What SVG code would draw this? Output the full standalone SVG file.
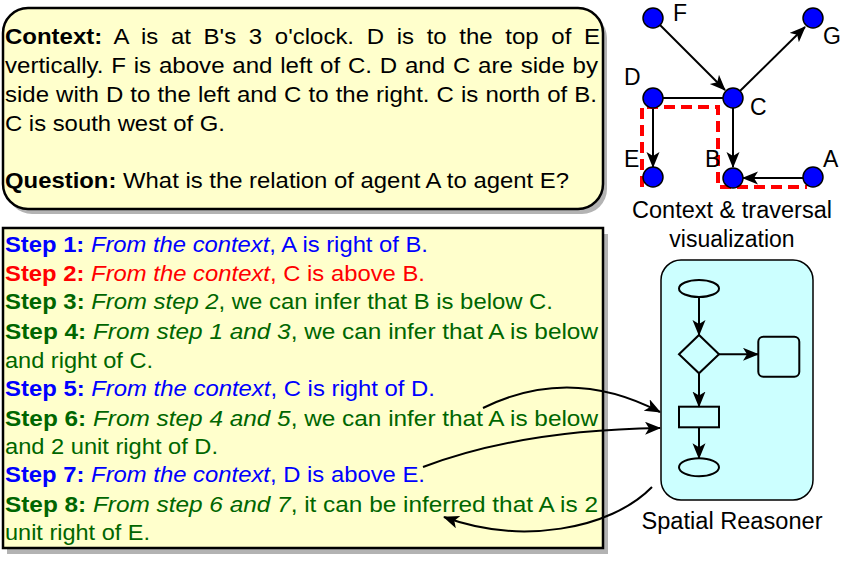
<svg xmlns="http://www.w3.org/2000/svg" width="845" height="564" viewBox="0 0 845 564">
<style>
text{font-family:"Liberation Sans",Arial,sans-serif;}
.t{font-size:22px;}
.b{font-weight:bold;}
.i{font-style:italic;}
.blue{fill:#0000ff;}
.red{fill:#ff0000;}
.green{fill:#006600;}
.lbl{font-size:23px;fill:#000;}
.box{fill:#ffffcc;stroke:#000;stroke-width:2.5;}
.shadow{fill:#b3b3b3;}
.edge{fill:none;stroke:#000;stroke-width:2;}
.node{fill:#0000ff;stroke:#000;stroke-width:1.5;}
.fl{fill:none;stroke:#000;stroke-width:2;}
</style>
<defs>
<marker id="ah" markerUnits="userSpaceOnUse" markerWidth="18" markerHeight="14" refX="15" refY="6.5" orient="auto">
<path d="M0,0 L16,6.5 L0,13 L4,6.5 Z" fill="#000"/>
</marker>
</defs>

<g id="context-box">
<rect class="shadow" x="7" y="13" width="600" height="201" rx="25"/>
<rect class="box" x="3" y="8" width="600" height="201" rx="25"/>
<text class="t" x="5" y="44" word-spacing="5.5" textLength="595" lengthAdjust="spacingAndGlyphs"><tspan class="b">Context:</tspan> A is at B's 3 o'clock. D is to the top of E</text>
<text class="t" x="5" y="73" word-spacing="1" textLength="593" lengthAdjust="spacingAndGlyphs">vertically. F is above and left of C. D and C are side by</text>
<text class="t" x="5" y="102" word-spacing="0.4" textLength="592" lengthAdjust="spacingAndGlyphs">side with D to the left and C to the right. C is north of B.</text>
<text class="t" x="5" y="131" textLength="220" lengthAdjust="spacingAndGlyphs">C is south west of G.</text>
<text class="t" x="5" y="188" textLength="564" lengthAdjust="spacingAndGlyphs"><tspan class="b">Question:</tspan> What is the relation of agent A to agent E?</text>
</g>

<g id="steps-box">
<rect class="shadow" x="7" y="234" width="601" height="320"/>
<rect class="box" x="3" y="228" width="600" height="320"/>
<text class="t blue" x="5" y="252" textLength="423" lengthAdjust="spacingAndGlyphs"><tspan class="b">Step 1:</tspan> <tspan class="i">From the context</tspan>, A is right of B.</text>
<text class="t red" x="5" y="281" textLength="420" lengthAdjust="spacingAndGlyphs"><tspan class="b">Step 2:</tspan> <tspan class="i">From the context</tspan>, C is above B.</text>
<text class="t green" x="5" y="309" textLength="548" lengthAdjust="spacingAndGlyphs"><tspan class="b">Step 3:</tspan> <tspan class="i">From step 2</tspan>, we can infer that B is below C.</text>
<text class="t green" x="5" y="339" textLength="593" lengthAdjust="spacingAndGlyphs"><tspan class="b">Step 4:</tspan> <tspan class="i">From step 1 and 3</tspan>, we can infer that A is below</text>
<text class="t green" x="5" y="368" textLength="148" lengthAdjust="spacingAndGlyphs">and right of C.</text>
<text class="t blue" x="5" y="396" textLength="430" lengthAdjust="spacingAndGlyphs"><tspan class="b">Step 5:</tspan> <tspan class="i">From the context</tspan>, C is right of D.</text>
<text class="t green" x="5" y="426" textLength="593" lengthAdjust="spacingAndGlyphs"><tspan class="b">Step 6:</tspan> <tspan class="i">From step 4 and 5</tspan>, we can infer that A is below</text>
<text class="t green" x="5" y="454" textLength="213" lengthAdjust="spacingAndGlyphs">and 2 unit right of D.</text>
<text class="t blue" x="5" y="482" textLength="420" lengthAdjust="spacingAndGlyphs"><tspan class="b">Step 7:</tspan> <tspan class="i">From the context</tspan>, D is above E.</text>
<text class="t green" x="5" y="512" textLength="593" lengthAdjust="spacingAndGlyphs"><tspan class="b">Step 8:</tspan> <tspan class="i">From step 6 and 7</tspan>, it can be inferred that A is 2</text>
<text class="t green" x="5" y="540" textLength="145" lengthAdjust="spacingAndGlyphs">unit right of E.</text>
</g>

<g id="spatial-reasoner">
<rect x="661" y="260" width="152" height="240" rx="20" fill="#ccffff" stroke="#000" stroke-width="1.5"/>
<ellipse cx="699" cy="288.5" rx="20" ry="8.5" class="fl"/>
<path d="M679,354.3 L699,335 L719,354.3 L699,373.3 Z" class="fl"/>
<rect x="758.3" y="336.7" width="41" height="40" rx="5" class="fl"/>
<rect x="679" y="406.7" width="40" height="20.6" class="fl"/>
<ellipse cx="699" cy="467.3" rx="20" ry="9" class="fl"/>
<path d="M699,297 V335" class="fl" marker-end="url(#ah)"/>
<path d="M719,354.3 H758" class="fl" marker-end="url(#ah)"/>
<path d="M699,373.3 V406.5" class="fl" marker-end="url(#ah)"/>
<path d="M699,427.3 V458.3" class="fl" marker-end="url(#ah)"/>
<text class="lbl" x="732" y="529" text-anchor="middle" textLength="181" lengthAdjust="spacingAndGlyphs">Spatial Reasoner</text>
</g>

<g id="graph-caption">
<text class="lbl" x="732" y="218" text-anchor="middle" textLength="200" lengthAdjust="spacingAndGlyphs">Context &amp; traversal</text>
<text class="lbl" x="732" y="247" text-anchor="middle">visualization</text>
</g>

<g id="connectors">
<path class="edge" d="M660,25 L725,90" marker-end="url(#ah)"/>
<path class="edge" d="M740,91 L805,27" marker-end="url(#ah)"/>
<path class="edge" d="M663,98 H723"/>
<path class="edge" d="M653,108 V167" marker-end="url(#ah)"/>
<path class="edge" d="M733,108 V167" marker-end="url(#ah)"/>
<path class="edge" d="M803,178 H743" marker-end="url(#ah)"/>
<path d="M642,187 V107 H718 V187 H807" fill="none" stroke="#ff0000" stroke-width="4" stroke-dasharray="11,6"/>
<path class="edge" d="M483,408 Q570,365 660,412" marker-end="url(#ah)"/>
<path class="edge" d="M423,467 Q520,430 660,428" marker-end="url(#ah)"/>
<path class="edge" d="M652,487 C610,530 520,545 444,517" marker-end="url(#ah)"/>
</g>

<g id="node-F"><circle class="node" cx="653" cy="18" r="10"/><text class="lbl" x="673" y="21">F</text></g>
<g id="node-G"><circle class="node" cx="813" cy="18" r="10"/><text class="lbl" x="823" y="44">G</text></g>
<g id="node-D"><circle class="node" cx="653" cy="98" r="10"/><text class="lbl" x="624" y="85">D</text></g>
<g id="node-C"><circle class="node" cx="733" cy="98" r="10"/><text class="lbl" x="750" y="115">C</text></g>
<g id="node-E"><circle class="node" cx="653" cy="177" r="10"/><text class="lbl" x="624" y="167">E</text></g>
<g id="node-B"><circle class="node" cx="733" cy="178" r="10"/><text class="lbl" x="705" y="167">B</text></g>
<g id="node-A"><circle class="node" cx="813" cy="177" r="10"/><text class="lbl" x="823" y="167">A</text></g>
</svg>
